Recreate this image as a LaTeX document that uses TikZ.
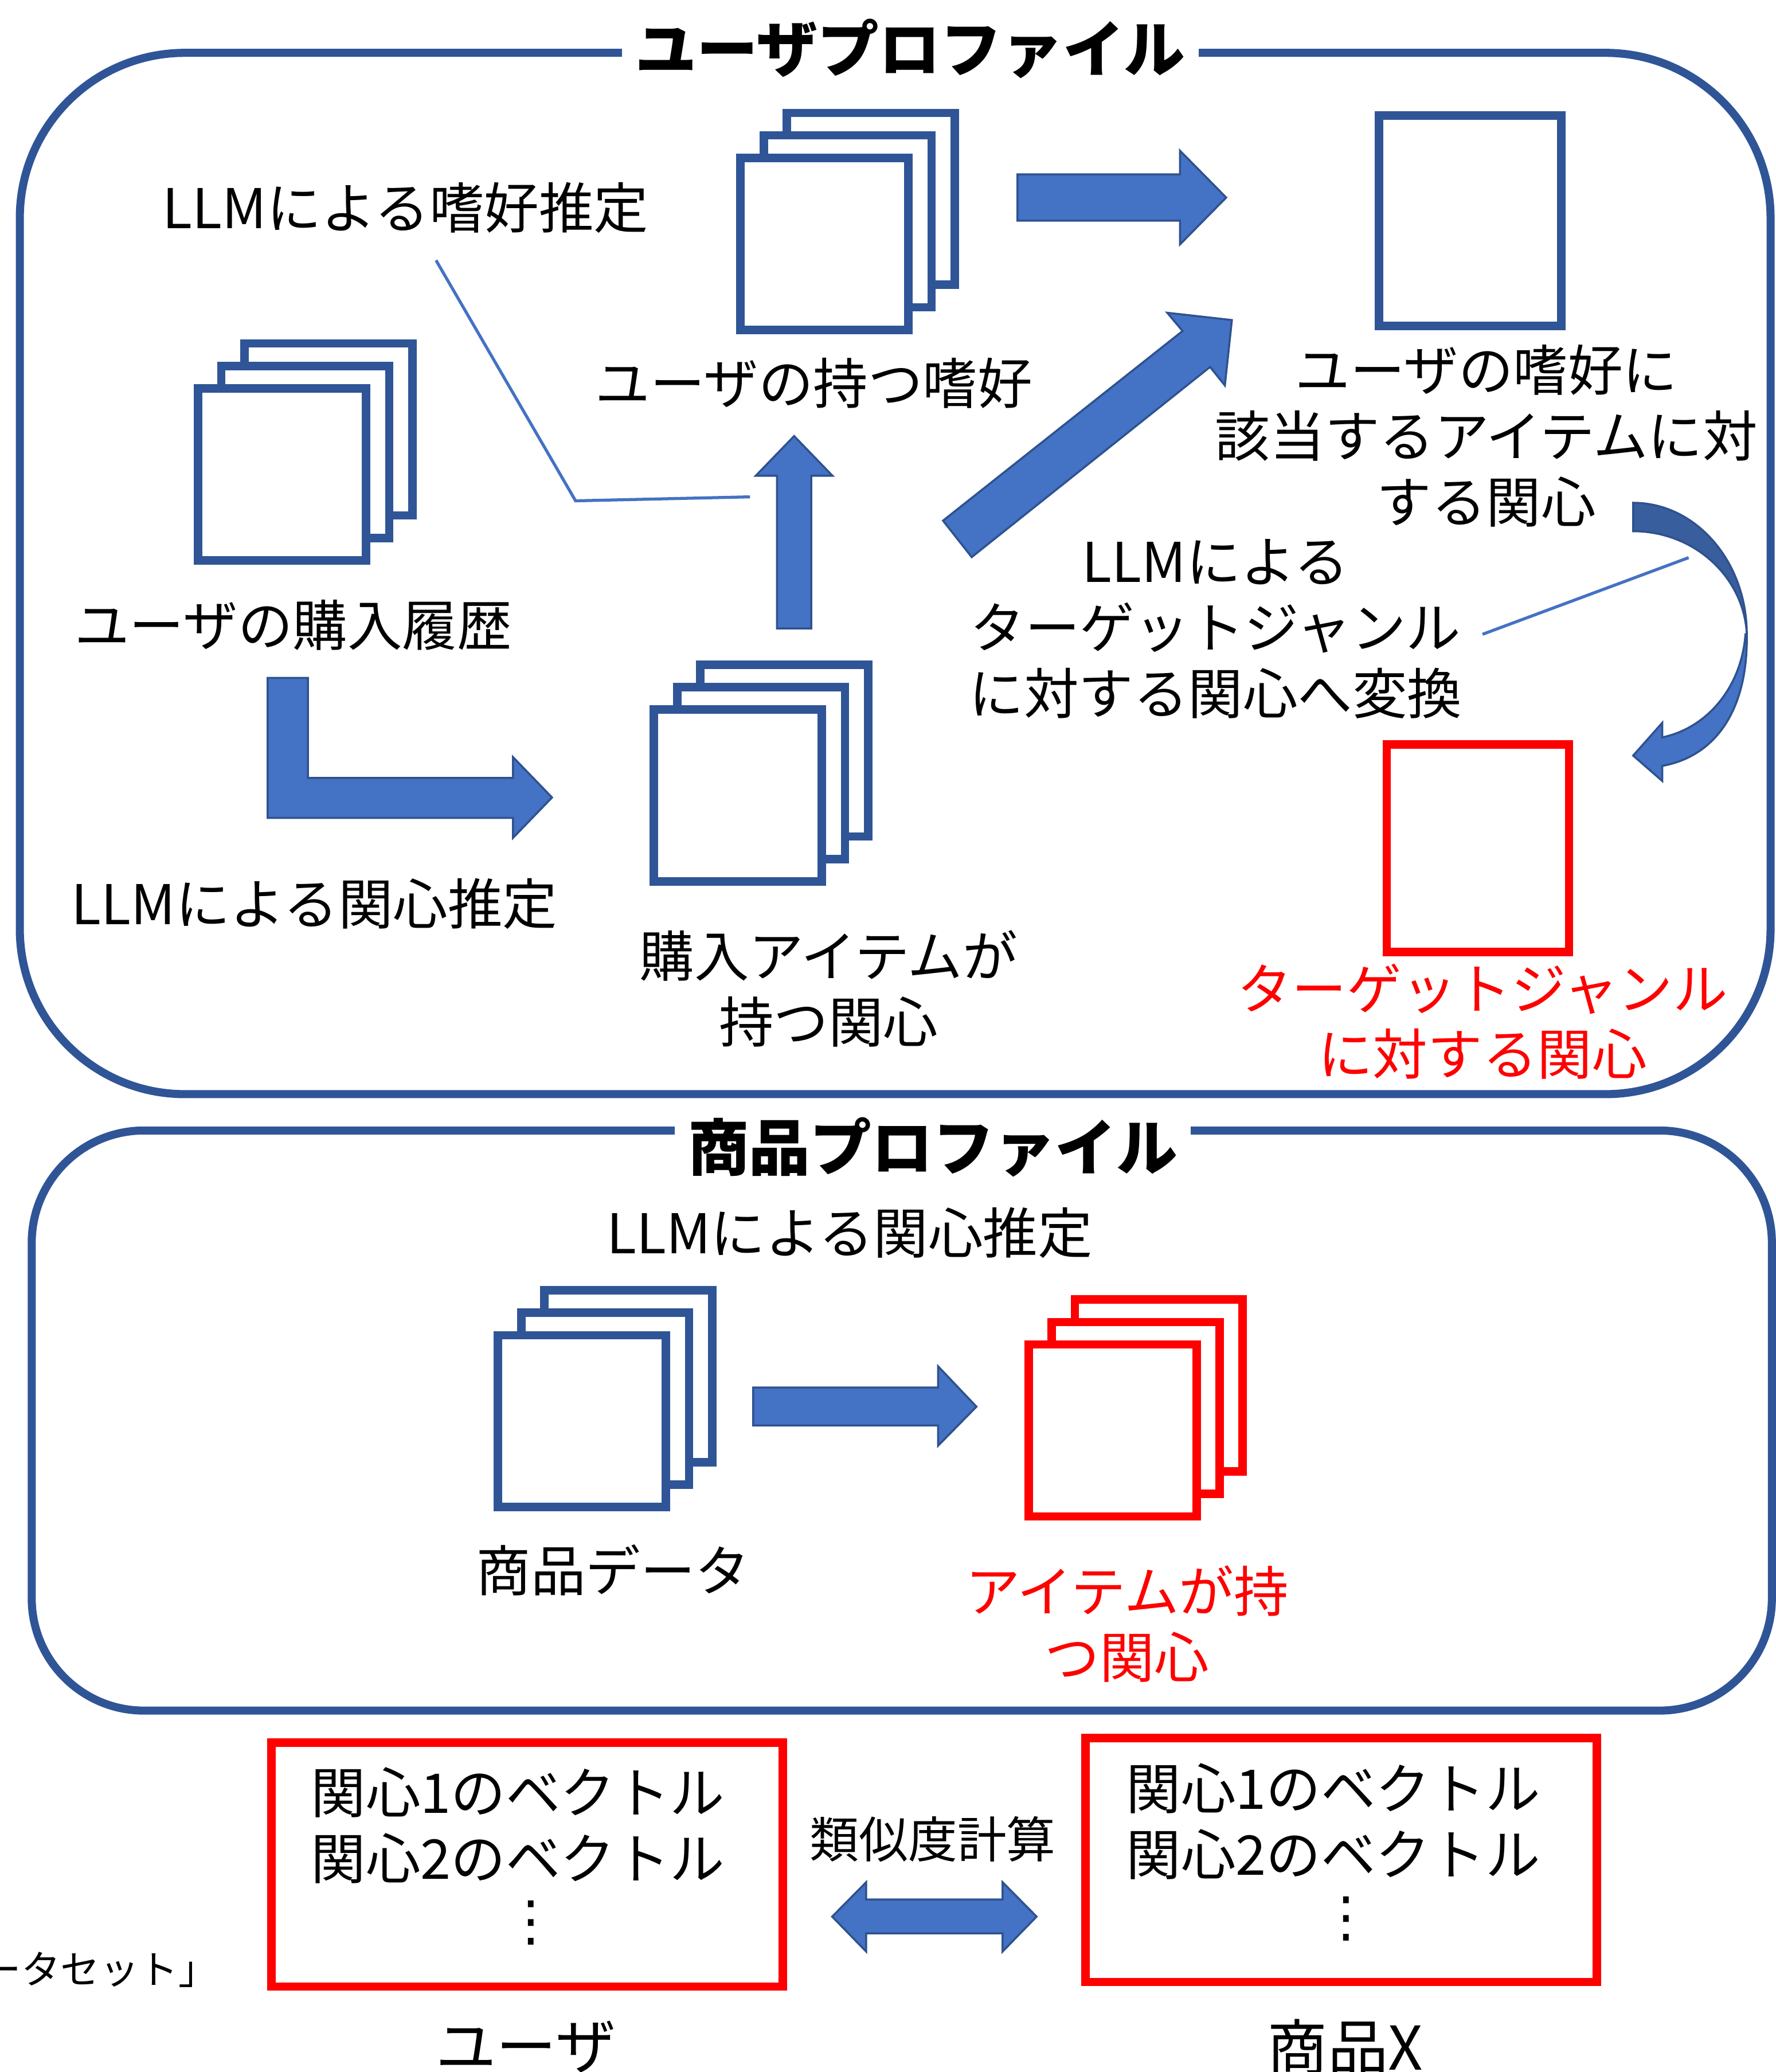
\documentclass[tikz,border=0pt]{standalone}
\usepackage{fontspec}
\setmainfont{Noto Sans CJK JP}
\newfontfamily\dejavu{DejaVu Sans}
\definecolor{pblue}{HTML}{2F5597}
\definecolor{afill}{HTML}{4472C4}
\definecolor{aline}{HTML}{2F528F}
\definecolor{adark}{HTML}{385E9D}
\definecolor{rred}{HTML}{FF0000}
\begin{document}
\begin{tikzpicture}[x=0.023051cm,y=-0.023051cm,
  profile/.style={draw=pblue, line width=4pt},
  doc/.style={draw=pblue, line width=4.2pt, fill=white, minimum width=2.93cm, minimum height=3.0cm, inner sep=0pt},
  reddoc/.style={doc, draw=rred},
  txt/.style={font=\fontsize{27.2}{32.7}\selectfont, align=center, inner sep=0pt},
  redtxt/.style={txt, text=rred},
  ttl/.style={font=\bfseries\fontsize{30.4}{36}\selectfont, fill=white, inner xsep=0.23cm, inner ysep=0pt},
  blockarrow/.style={fill=afill, draw=aline, line width=1pt, line join=miter},
  callout/.style={draw=afill, line width=1.5pt}]
\useasboundingbox (0,0) rectangle (1344,1568);

% profile frames
\draw[profile, rounded corners=2.88cm] (15,40) rectangle (1340,828);
\draw[profile, rounded corners=1.96cm] (24,855.5) rectangle (1341,1294.5);
\node[ttl] (title1) at (689,37) {ユーザプロファイル};
\node[ttl] (title2) at (706,868) {商品プロファイル};

% document stacks
\node[doc] (a3) at (659,150.5) {};
\node[doc] (a2) at (641.5,167.5) {};
\node[doc] (a1) at (624,184.5) {};
\node[doc] (b3) at (248.5,325) {};
\node[doc] (b2) at (231,342) {};
\node[doc] (b1) at (213.5,359) {};
\node[doc] (c3) at (593.5,568) {};
\node[doc] (c2) at (576,585) {};
\node[doc] (c1) at (558.5,602) {};
\node[doc] (f3) at (475.5,1041.5) {};
\node[doc] (f2) at (458,1058.5) {};
\node[doc] (f1) at (440.5,1075.5) {};
\node[reddoc] (g3) at (877,1048.5) {};
\node[reddoc] (g2) at (859.5,1065.5) {};
\node[reddoc] (g1) at (842,1082.5) {};
\node[doc, minimum width=3.18cm, minimum height=3.67cm] (d) at (1112.5,167) {};
\node[reddoc, minimum width=3.18cm, minimum height=3.62cm] (e) at (1118.5,642) {};
\node[reddoc, minimum width=8.92cm, minimum height=4.26cm] (vu) at (399,1411) {};
\node[reddoc, minimum width=8.92cm, minimum height=4.26cm] (vi) at (1015,1407.5) {};

% block arrows
\draw[blockarrow] (770,132) -- (893,132) -- (893,114) -- (928,149.5) -- (893,185) -- (893,167) -- (770,167) -- cycle;
\draw[blockarrow] (713.7,394) -- (895,250.5) -- (883.4,236.7) -- (932.3,242.2) -- (927,291.7) -- (915.8,277.7) -- (735.4,421.6) -- cycle;
\draw[blockarrow] (588,475.6) -- (588,360) -- (572,360) -- (601,330) -- (630,360) -- (614,360) -- (614,475.6) -- cycle;
\draw[blockarrow] (202.6,513) -- (233,513) -- (233,588.7) -- (388.3,588.7) -- (388.3,573) -- (417.8,603.5) -- (388.3,634) -- (388.3,619) -- (202.6,619) -- cycle;
\draw[blockarrow] (570,1050) -- (710,1050) -- (710,1034) -- (739,1064.5) -- (710,1094) -- (710,1078.7) -- (570,1078.7) -- cycle;
\draw[blockarrow] (629.8,1450.4) -- (655.5,1424.4) -- (655.5,1437.4) -- (758.8,1437.4) -- (758.8,1424.4) -- (784.5,1450.4) -- (758.8,1476.8) -- (758.8,1463) -- (655.5,1463) -- (655.5,1476.8) -- cycle;
% curved arrow
\draw[fill=adark, draw=aline, line width=1pt] (1236,380.5) .. controls (1283.5,380.5) and (1322,425) .. (1322,480)
  .. controls (1320,436.9) and (1282.4,402) .. (1236,402) -- cycle;
\draw[blockarrow] (1322,480) .. controls (1323,535) and (1300,572) .. (1258,579.6) -- (1258,591) -- (1236,571.8) -- (1258,547) -- (1258,558)
  .. controls (1292,551) and (1318,520) .. (1321,480) -- cycle;

% callout lines
\coordinate (c1a) at (330,197);
\coordinate (c1b) at (435.6,379);
\coordinate (c1c) at (567.6,376);
\draw[callout] (c1a) -- (c1b) -- (c1c);
\coordinate (c2a) at (1122,480);
\coordinate (c2b) at (1278,422);
\draw[callout] (c2a) -- (c2b);

% texts
\node[txt] (t1) at (307,157) {LLMによる嗜好推定};
\node[txt] (t2) at (616,290) {ユーザの持つ嗜好};
\node[txt] (t3) at (1125,330) {ユーザの嗜好に\\該当するアイテムに対\\する関心};
\node[txt] (t4) at (920,476) {LLMによる\\ターゲットジャンル\\に対する関心へ変換};
\node[txt] (t5) at (222,473) {ユーザの購入履歴};
\node[txt] (t6) at (238,684) {LLMによる関心推定};
\node[txt] (t7) at (627,748) {購入アイテムが\\持つ関心};
\node[redtxt] (t8) at (1122,773) {ターゲットジャンル\\に対する関心};
\node[txt] (t9) at (643,933) {LLMによる関心推定};
\node[txt] (t10) at (464,1188) {商品データ};
\node[redtxt] (t11) at (853,1229) {アイテムが持\\つ関心};
\node[txt] (vu1) at (392,1381.5) {関心1のベクトル\\関心2のベクトル};
\node[txt] (vu2) at (402,1455) {\dejavu ⋮};
\node[txt] (vi1) at (1009,1378.5) {関心1のベクトル\\関心2のベクトル};
\node[txt] (vi2) at (1019,1452) {\dejavu ⋮};
\node[txt, font=\fontsize{24.4}{29}\selectfont] (sim) at (706,1392) {類似度計算};
\node[txt, font=\fontsize{30}{36}\selectfont] (lu) at (398,1549) {ユーザ};
\node[txt, font=\fontsize{30}{36}\selectfont] (li) at (1018,1549) {商品X};
\node[txt, font=\fontsize{19.5}{23}\selectfont, anchor=east] (ds) at (165,1490.5) {ータセット」};
\end{tikzpicture}
\end{document}
